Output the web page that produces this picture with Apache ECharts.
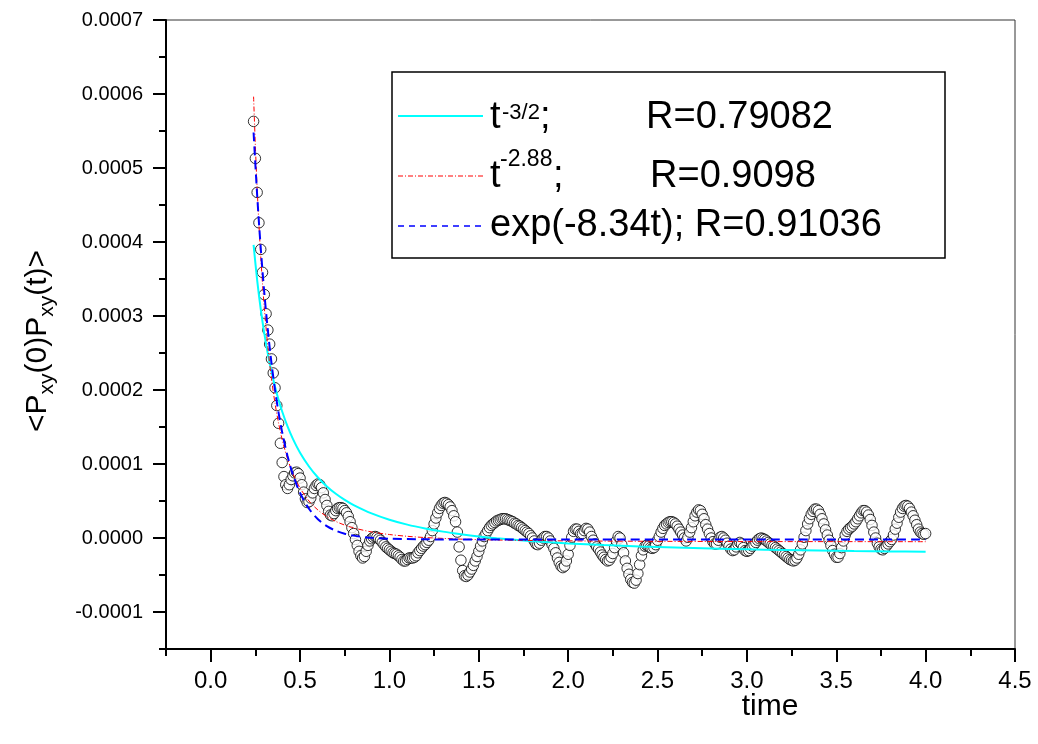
<!DOCTYPE html>
<html><head><meta charset="utf-8">
<script src="https://cdn.jsdelivr.net/npm/echarts@6/dist/echarts.min.js"></script>
<style>html,body{margin:0;padding:0;background:#fff}#c{width:1038px;height:744px}</style>
</head><body><div id="c"></div>
<script>
// ---- measured correlation data (time, <Pxy(0)Pxy(t)>) ----
const times = [
0.24,0.25,0.26,0.27,0.28,0.29,
0.30,0.31,0.32,0.33,0.34,0.35,0.36,0.37,0.38,0.39,
0.40,0.41,0.42,0.43,0.44,0.45,0.46,0.47,0.48,0.49,
0.50,0.51,0.52,0.53,0.54,0.55,0.56,0.57,0.58,0.59,
0.60,0.61,0.62,0.63,0.64,0.65,0.66,0.67,0.68,0.69,
0.70,0.71,0.72,0.73,0.74,0.75,0.76,0.77,0.78,0.79,
0.80,0.81,0.82,0.83,0.84,0.85,0.86,0.87,0.88,0.89,
0.90,0.91,0.92,0.93,0.94,0.95,0.96,0.97,0.98,0.99,
1.00,1.01,1.02,1.03,1.04,1.05,1.06,1.07,1.08,1.09,
1.10,1.11,1.12,1.13,1.14,1.15,1.16,1.17,1.18,1.19,
1.20,1.21,1.22,1.23,1.24,1.25,1.26,1.27,1.28,1.29,
1.30,1.31,1.32,1.33,1.34,1.35,1.36,1.37,1.38,1.39,
1.40,1.41,1.42,1.43,1.44,1.45,1.46,1.47,1.48,1.49,
1.50,1.51,1.52,1.53,1.54,1.55,1.56,1.57,1.58,1.59,
1.60,1.61,1.62,1.63,1.64,1.65,1.66,1.67,1.68,1.69,
1.70,1.71,1.72,1.73,1.74,1.75,1.76,1.77,1.78,1.79,
1.80,1.81,1.82,1.83,1.84,1.85,1.86,1.87,1.88,1.89,
1.90,1.91,1.92,1.93,1.94,1.95,1.96,1.97,1.98,1.99,
2.00,2.01,2.02,2.03,2.04,2.05,2.06,2.07,2.08,2.09,
2.10,2.11,2.12,2.13,2.14,2.15,2.16,2.17,2.18,2.19,
2.20,2.21,2.22,2.23,2.24,2.25,2.26,2.27,2.28,2.29,
2.30,2.31,2.32,2.33,2.34,2.35,2.36,2.37,2.38,2.39,
2.40,2.41,2.42,2.43,2.44,2.45,2.46,2.47,2.48,2.49,
2.50,2.51,2.52,2.53,2.54,2.55,2.56,2.57,2.58,2.59,
2.60,2.61,2.62,2.63,2.64,2.65,2.66,2.67,2.68,2.69,
2.70,2.71,2.72,2.73,2.74,2.75,2.76,2.77,2.78,2.79,
2.80,2.81,2.82,2.83,2.84,2.85,2.86,2.87,2.88,2.89,
2.90,2.91,2.92,2.93,2.94,2.95,2.96,2.97,2.98,2.99,
3.00,3.01,3.02,3.03,3.04,3.05,3.06,3.07,3.08,3.09,
3.10,3.11,3.12,3.13,3.14,3.15,3.16,3.17,3.18,3.19,
3.20,3.21,3.22,3.23,3.24,3.25,3.26,3.27,3.28,3.29,
3.30,3.31,3.32,3.33,3.34,3.35,3.36,3.37,3.38,3.39,
3.40,3.41,3.42,3.43,3.44,3.45,3.46,3.47,3.48,3.49,
3.50,3.51,3.52,3.53,3.54,3.55,3.56,3.57,3.58,3.59,
3.60,3.61,3.62,3.63,3.64,3.65,3.66,3.67,3.68,3.69,
3.70,3.71,3.72,3.73,3.74,3.75,3.76,3.77,3.78,3.79,
3.80,3.81,3.82,3.83,3.84,3.85,3.86,3.87,3.88,3.89,
3.90,3.91,3.92,3.93,3.94,3.95,3.96,3.97,3.98,3.99,
4.00];
const corr = [
56.3e-5,51.3e-5,46.7e-5,42.6e-5,39.0e-5,35.9e-5,
32.9e-5,30.3e-5,28.1e-5,26.2e-5,24.2e-5,22.3e-5,20.3e-5,17.9e-5,15.5e-5,12.8e-5,
10.2e-5,8.3e-5,7.2e-5,6.7e-5,7.2e-5,7.9e-5,8.4e-5,8.8e-5,8.9e-5,8.7e-5,
8.1e-5,7.2e-5,6.2e-5,5.3e-5,4.8e-5,4.9e-5,5.4e-5,6.1e-5,6.7e-5,7.1e-5,
7.3e-5,7.2e-5,6.8e-5,6.1e-5,5.2e-5,4.4e-5,3.6e-5,3.1e-5,3.0e-5,3.3e-5,
3.7e-5,4.0e-5,4.1e-5,4.1e-5,4.0e-5,3.7e-5,3.4e-5,2.9e-5,2.2e-5,1.4e-5,
0.6e-5,-0.2e-5,-1.0e-5,-1.8e-5,-2.4e-5,-2.7e-5,-2.5e-5,-1.8e-5,-1.0e-5,-0.4e-5,
-0.1e-5,0.1e-5,0.2e-5,0.1e-5,-0.1e-5,-0.3e-5,-0.6e-5,-0.9e-5,-1.2e-5,-1.4e-5,
-1.6e-5,-1.8e-5,-2.0e-5,-2.1e-5,-2.2e-5,-2.4e-5,-2.6e-5,-2.9e-5,-3.1e-5,-3.1e-5,
-2.9e-5,-2.7e-5,-2.7e-5,-2.7e-5,-2.6e-5,-2.4e-5,-2.0e-5,-1.7e-5,-1.4e-5,-1.1e-5,
-0.9e-5,-0.6e-5,-0.3e-5,0.2e-5,1.0e-5,1.9e-5,2.7e-5,3.4e-5,4.0e-5,4.4e-5,
4.7e-5,4.8e-5,4.7e-5,4.5e-5,4.2e-5,3.7e-5,3.0e-5,2.2e-5,0.8e-5,-1.2e-5,
-3.0e-5,-4.4e-5,-5.1e-5,-5.2e-5,-5.0e-5,-4.6e-5,-4.2e-5,-3.7e-5,-3.1e-5,-2.5e-5,
-1.8e-5,-1.1e-5,-0.4e-5,0.2e-5,0.6e-5,1.0e-5,1.4e-5,1.7e-5,1.9e-5,2.1e-5,
2.3e-5,2.4e-5,2.5e-5,2.6e-5,2.6e-5,2.6e-5,2.5e-5,2.4e-5,2.3e-5,2.2e-5,
2.0e-5,1.9e-5,1.7e-5,1.6e-5,1.4e-5,1.2e-5,1.0e-5,0.8e-5,0.6e-5,0.3e-5,
0,-0.4e-5,-0.8e-5,-0.9e-5,-0.7e-5,-0.3e-5,0,0.2e-5,0.2e-5,0,
-0.4e-5,-0.9e-5,-1.4e-5,-2.0e-5,-2.7e-5,-3.3e-5,-3.8e-5,-4.0e-5,-3.8e-5,-3.1e-5,
-2.2e-5,-1.0e-5,0.1e-5,0.9e-5,1.2e-5,1.2e-5,0.9e-5,0.6e-5,0.6e-5,1.0e-5,
1.3e-5,1.2e-5,0.8e-5,0.2e-5,-0.3e-5,-0.8e-5,-1.2e-5,-1.5e-5,-1.9e-5,-2.3e-5,
-2.6e-5,-2.9e-5,-3.1e-5,-3.0e-5,-2.6e-5,-2.1e-5,-1.3e-5,-0.4e-5,0.2e-5,0,
-0.9e-5,-2.0e-5,-3.1e-5,-4.1e-5,-4.9e-5,-5.6e-5,-6.0e-5,-6.1e-5,-5.7e-5,-4.8e-5,
-3.6e-5,-2.4e-5,-1.6e-5,-1.1e-5,-1.0e-5,-1.1e-5,-1.3e-5,-1.4e-5,-1.3e-5,-0.9e-5,
-0.3e-5,0.2e-5,0.8e-5,1.3e-5,1.7e-5,1.9e-5,2.1e-5,2.2e-5,2.2e-5,2.1e-5,
1.9e-5,1.6e-5,1.2e-5,0.8e-5,0.4e-5,0,-0.4e-5,0.1e-5,0.8e-5,1.4e-5,
2.2e-5,3.0e-5,3.5e-5,3.8e-5,3.7e-5,3.2e-5,2.6e-5,1.8e-5,1.2e-5,0.6e-5,
0,-0.5e-5,-0.8e-5,-0.8e-5,-0.3e-5,0.1e-5,0.2e-5,0,-0.3e-5,-0.7e-5,
-1.1e-5,-1.5e-5,-1.7e-5,-1.6e-5,-1.2e-5,-0.8e-5,-0.6e-5,-0.8e-5,-1.3e-5,-1.7e-5,
-1.8e-5,-1.7e-5,-1.4e-5,-1.1e-5,-0.9e-5,-0.6e-5,-0.3e-5,-0.1e-5,0,-0.1e-5,
-0.2e-5,-0.4e-5,-0.6e-5,-0.8e-5,-1.0e-5,-1.1e-5,-1.3e-5,-1.5e-5,-1.7e-5,-1.9e-5,
-2.1e-5,-2.3e-5,-2.5e-5,-2.7e-5,-2.9e-5,-3.0e-5,-3.1e-5,-3.0e-5,-2.7e-5,-2.2e-5,
-1.6e-5,-0.8e-5,0.1e-5,1.0e-5,1.9e-5,2.6e-5,3.2e-5,3.6e-5,3.9e-5,3.9e-5,
3.7e-5,3.2e-5,2.6e-5,1.9e-5,1.1e-5,0.4e-5,-0.3e-5,-1.0e-5,-1.7e-5,-2.2e-5,
-2.6e-5,-2.6e-5,-2.1e-5,-1.3e-5,-0.4e-5,0.4e-5,0.9e-5,1.2e-5,1.4e-5,1.6e-5,
1.9e-5,2.2e-5,2.6e-5,3.0e-5,3.4e-5,3.7e-5,3.7e-5,3.5e-5,3.1e-5,2.5e-5,
1.7e-5,0.8e-5,0,-0.7e-5,-1.2e-5,-1.5e-5,-1.6e-5,-1.4e-5,-1.1e-5,-0.8e-5,
-0.5e-5,-0.2e-5,0.4e-5,1.2e-5,2.0e-5,2.8e-5,3.5e-5,4.0e-5,4.3e-5,4.4e-5,
4.3e-5,4.0e-5,3.5e-5,3.0e-5,2.4e-5,1.8e-5,1.2e-5,0.8e-5,0.6e-5,0.5e-5,
0.6e-5];

// ---- fitted curves ----
const fitPow15T = [0.24,0.26,0.28,0.30,0.32,0.34,0.36,0.38,0.40,0.43,0.46,0.50,0.55,0.60,0.65,0.70,0.75,0.80,0.90,1.0,1.1,1.2,1.3,1.4,1.5,1.6,1.8,2.0,2.2,2.4,2.6,2.8,3.0,3.2,3.4,3.6,3.8,4.0];
const fitPow15V = [39.62e-5,34.86e-5,30.93e-5,27.64e-5,24.87e-5,22.49e-5,20.44e-5,18.65e-5,17.09e-5,15.07e-5,13.39e-5,11.52e-5,9.66e-5,8.17e-5,6.97e-5,5.97e-5,5.14e-5,4.44e-5,3.32e-5,2.47e-5,1.81e-5,1.29e-5,0.86e-5,0.51e-5,0.21e-5,-0.03e-5,-0.43e-5,-0.73e-5,-0.96e-5,-1.15e-5,-1.30e-5,-1.42e-5,-1.53e-5,-1.62e-5,-1.69e-5,-1.76e-5,-1.81e-5,-1.86e-5];
const fitPow288T = [0.24,0.25,0.26,0.27,0.28,0.29,0.30,0.32,0.34,0.36,0.38,0.40,0.43,0.46,0.50,0.55,0.60,0.65,0.70,0.75,0.80,0.90,1.0,1.1,1.2,1.4,1.6,1.8,2.0,2.5,3.0,3.5,4.0];
const fitPow288V = [59.64e-5,52.96e-5,47.25e-5,42.34e-5,38.07e-5,34.36e-5,31.12e-5,25.75e-5,21.54e-5,18.19e-5,15.50e-5,13.30e-5,10.70e-5,8.72e-5,6.75e-5,5.00e-5,3.78e-5,2.89e-5,2.24e-5,1.74e-5,1.36e-5,0.82e-5,0.47e-5,0.23e-5,0.06e-5,-0.15e-5,-0.27e-5,-0.34e-5,-0.39e-5,-0.45e-5,-0.48e-5,-0.49e-5,-0.50e-5];
const fitExpT = [0.24,0.26,0.28,0.30,0.32,0.34,0.36,0.38,0.40,0.43,0.46,0.50,0.55,0.60,0.65,0.70,0.75,0.80,0.90,1.0,1.2,1.5,2.0,3.0,4.0];
const fitExpV = [54.8e-5,46.34e-5,39.19e-5,33.13e-5,28.01e-5,23.68e-5,20.01e-5,16.91e-5,14.28e-5,11.07e-5,8.58e-5,6.09e-5,3.95e-5,2.53e-5,1.60e-5,0.99e-5,0.58e-5,0.32e-5,0.02e-5,-0.10e-5,-0.18e-5,-0.2e-5,-0.2e-5,-0.2e-5,-0.2e-5];

// ---- axis ticks ----
const xMajorTicks = [0,0.5,1,1.5,2,2.5,3,3.5,4,4.5];
const xMinorTicks = [-0.25,0.25,0.75,1.25,1.75,2.25,2.75,3.25,3.75,4.25];
const yMajorTicks = [-0.0001,0,0.0001,0.0002,0.0003,0.0004,0.0005,0.0006,0.0007];
const yMinorTicks = [-0.00015,-0.00005,0.00005,0.00015,0.00025,0.00035,0.00045,0.00055,0.00065];

const legendRows = [
  {base:'t', sup:'-3/2', tail:';', r:'R=0.79082'},
  {base:'t', sup:'-2.88', tail:';', r:'R=0.9098'},
  {base:'exp(-8.34t); R=0.91036'}
];

const zip = (a, b) => a.map((t, i) => [t, b[i]]);
const FONT = '"Liberation Sans", Arial, sans-serif';

const chart = echarts.init(document.getElementById('c'), null, {renderer: 'canvas'});

const X_MIN = -0.25, X_MAX = 4.5, Y_MIN = -0.00015, Y_MAX = 0.0007;

// tick-only helper axes (no line, no labels)
const tickAxis = (min, max, pos, values, len) => ({
  type: 'value', min: min, max: max, position: pos, gridIndex: 0,
  axisLine: {show: false, onZero: false},
  axisTick: {show: true, inside: false, length: len, customValues: values, lineStyle: {color: '#000', width: 2}},
  axisLabel: {show: false}, splitLine: {show: false}
});

const option = {
  animation: false,
  backgroundColor: '#fff',
  grid: {left: 166, top: 20, width: 849, height: 629, show: true, borderColor: '#333', borderWidth: 1, containLabel: false},
  xAxis: [
    {type: 'value', min: X_MIN, max: X_MAX, position: 'bottom',
     axisLine: {show: true, onZero: false, lineStyle: {color: '#000', width: 2}},
     axisTick: {show: false},
     axisLabel: {customValues: xMajorTicks, formatter: v => v.toFixed(1), fontFamily: FONT, fontSize: 24, color: '#000', margin: 20},
     splitLine: {show: false}},
    tickAxis(X_MIN, X_MAX, 'bottom', xMajorTicks, 13),
    tickAxis(X_MIN, X_MAX, 'bottom', xMinorTicks, 7)
  ],
  yAxis: [
    {type: 'value', min: Y_MIN, max: Y_MAX, position: 'left',
     axisLine: {show: true, onZero: false, lineStyle: {color: '#000', width: 2}},
     axisTick: {show: false},
     axisLabel: {customValues: yMajorTicks, formatter: v => v.toFixed(4), fontFamily: FONT, fontSize: 20, color: '#000', margin: 23},
     splitLine: {show: false}},
    tickAxis(Y_MIN, Y_MAX, 'left', yMajorTicks, 13),
    tickAxis(Y_MIN, Y_MAX, 'left', yMinorTicks, 7)
  ],
  series: [
    {type: 'scatter', name: 'data', data: zip(times, corr), symbol: 'circle', symbolSize: 10.5,
     itemStyle: {color: '#fff', borderColor: '#000', borderWidth: 1}, z: 2, silent: true},
    {type: 'line', name: 't^-3/2', data: zip(fitPow15T, fitPow15V), showSymbol: false, smooth: 0.3,
     lineStyle: {color: '#00ffff', width: 2}, z: 3, silent: true},
    {type: 'line', name: 't^-2.88', data: zip(fitPow288T, fitPow288V), showSymbol: false, smooth: 0.3,
     lineStyle: {color: '#ff0000', width: 1, type: [5, 2, 1, 2]}, z: 4, silent: true},
    {type: 'line', name: 'exp', data: zip(fitExpT, fitExpV), showSymbol: false, smooth: 0.3,
     lineStyle: {color: '#0000ff', width: 2, type: [9, 5]}, z: 5, silent: true}
  ],
  graphic: [
    // legend box
    {type: 'rect', shape: {x: 392, y: 72, width: 553, height: 186}, style: {fill: '#fff', stroke: '#000', lineWidth: 1.5}, z: 10},
    {type: 'line', shape: {x1: 398, y1: 116, x2: 483, y2: 116}, style: {stroke: '#00ffff', lineWidth: 2}, z: 11},
    {type: 'line', shape: {x1: 398, y1: 176, x2: 483, y2: 176}, style: {stroke: '#ff0000', lineWidth: 1, lineDash: [5, 2, 1, 2]}, z: 11},
    {type: 'line', shape: {x1: 398, y1: 226, x2: 483, y2: 226}, style: {stroke: '#0000ff', lineWidth: 1.5, lineDash: [6, 5]}, z: 11},
    {type: 'text', x: 490, y: 118, style: {text: legendRows[0].base, fontSize: 38, fontFamily: FONT, fill: '#000', verticalAlign: 'middle'}, z: 11},
    {type: 'text', x: 502, y: 113, style: {text: legendRows[0].sup, fontSize: 22, fontFamily: FONT, fill: '#000', verticalAlign: 'middle'}, z: 11},
    {type: 'text', x: 540, y: 118, style: {text: legendRows[0].tail, fontSize: 38, fontFamily: FONT, fill: '#000', verticalAlign: 'middle'}, z: 11},
    {type: 'text', x: 646, y: 118, style: {text: legendRows[0].r, fontSize: 38, fontFamily: FONT, fill: '#000', verticalAlign: 'middle'}, z: 11},
    {type: 'text', x: 490, y: 177, style: {text: legendRows[1].base, fontSize: 38, fontFamily: FONT, fill: '#000', verticalAlign: 'middle'}, z: 11},
    {type: 'text', x: 500, y: 160, style: {text: legendRows[1].sup, fontSize: 23, fontFamily: FONT, fill: '#000', verticalAlign: 'middle'}, z: 11},
    {type: 'text', x: 553, y: 177, style: {text: legendRows[1].tail, fontSize: 38, fontFamily: FONT, fill: '#000', verticalAlign: 'middle'}, z: 11},
    {type: 'text', x: 650, y: 177, style: {text: legendRows[1].r, fontSize: 38, fontFamily: FONT, fill: '#000', verticalAlign: 'middle'}, z: 11},
    {type: 'text', x: 490, y: 226, style: {text: legendRows[2].base, fontSize: 38, fontFamily: FONT, fill: '#000', verticalAlign: 'middle'}, z: 11},
    // axis titles
    {type: 'text', x: 770, y: 707, style: {text: 'time', fontSize: 30, fontFamily: FONT, fill: '#000', align: 'center', verticalAlign: 'middle'}, z: 11},
    {type: 'text', x: 38, y: 341, rotation: Math.PI / 2,
     style: {text: '{m|<P}{s|xy}{m|(0)P}{s|xy}{m|(t)>}', align: 'center', verticalAlign: 'middle',
       rich: {m: {fontSize: 30, fontFamily: FONT, fill: '#000', lineHeight: 40},
              s: {fontSize: 21, fontFamily: FONT, fill: '#000', lineHeight: 17, verticalAlign: 'bottom'}}}, z: 11}
  ]
};
chart.setOption(option);
</script>
</body></html>
